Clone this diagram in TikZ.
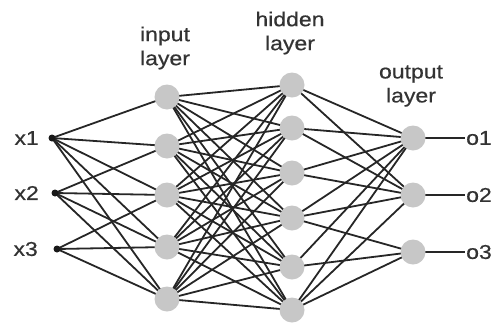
\documentclass[tikz,border=0pt]{standalone}
\usepackage{fontspec}
\setmainfont{Liberation Sans}[FakeStretch=1.15,FakeBold=0.6]
\usetikzlibrary{calc,backgrounds}
\begin{document}
\begin{tikzpicture}[x=1pt,y=-1pt,
  neuron/.style={circle,fill=black!22,minimum size=25pt,inner sep=0pt},
  dotin/.style={circle,fill=black!90,minimum size=7pt,inner sep=0pt},
  lbl/.style={text=black!80,font=\fontsize{20}{24}\selectfont,align=center,inner sep=0pt},
  edge/.style={draw=black!85,line width=1.8pt}]
\useasboundingbox (0,0) rectangle (498,322);
% inputs
\node[dotin] (x1) at (52,138) {};
\node[dotin] (x2) at (55,193) {};
\node[dotin] (x3) at (57,249) {};
\node[lbl,anchor=east] (lx1) at (39,138) {x1};
\node[lbl,anchor=east] (lx2) at (39,193) {x2};
\node[lbl,anchor=east] (lx3) at (38,249) {x3};
% input layer
\foreach \i/\y in {1/97,2/146,3/195,4/247,5/299} \node[neuron] (i\i) at (167,\y) {};
% hidden layer
\foreach \i/\y in {1/85,2/128,3/173,4/218,5/267,6/310} \node[neuron] (h\i) at (292,\y) {};
% output layer
\foreach \i/\y in {1/138,2/195,3/252} \node[neuron] (o\i) at (413,\y) {};
% output ends
\foreach \i in {1,2,3} \coordinate (e\i) at ($(o\i)+(52,0)$);
\node[lbl,anchor=west] (lo1) at ($(e1)+(1,0)$) {o1};
\node[lbl,anchor=west] (lo2) at ($(e2)+(1,0)$) {o2};
\node[lbl,anchor=west] (lo3) at ($(e3)+(1,0)$) {o3};
% connectors (behind)
\begin{scope}[on background layer]
\foreach \a/\b in {1/1,1/2,1/3,1/4,1/5,2/2,2/3,2/4,2/5,3/3,3/4,3/5}
  \draw[edge] (x\a.center) -- (i\b.center);
\foreach \a in {1,...,5} \foreach \b in {1,...,6} \draw[edge] (i\a.center) -- (h\b.center);
\foreach \a/\b in {1/1,1/2,2/1,2/2,3/1,3/2,4/1,4/2,4/3,5/1,5/3,6/1,6/2,6/3}
  \draw[edge] (h\a.center) -- (o\b.center);
\foreach \a in {1,2,3} \draw[edge] (o\a.center) -- (e\a);
\end{scope}
% labels
\node[lbl] (tin) at (165,48) {input\\layer};
\node[lbl] (thid) at (290,33) {hidden\\layer};
\node[lbl] (tout) at (411,86) {output\\layer};
\end{tikzpicture}
\end{document}
